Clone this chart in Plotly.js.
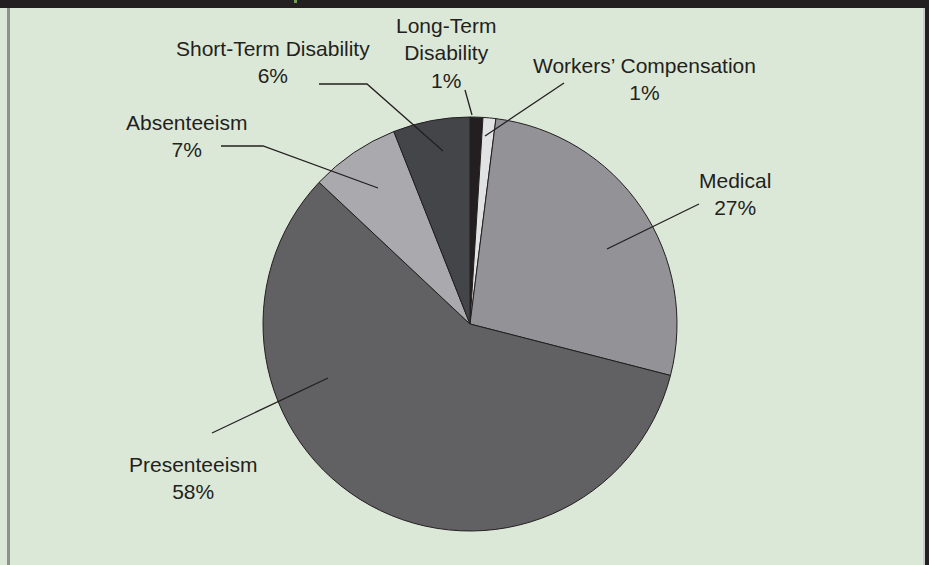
<!DOCTYPE html>
<html>
<head>
<meta charset="utf-8">
<script src="https://cdn.plot.ly/plotly-3.0.1.min.js"></script>
<style>
html,body{margin:0;padding:0;background:#dce8d7;}
#chart{width:929px;height:565px;}
</style>
</head>
<body>
<div id="chart"></div>
<script>
// ---- data ----
const categories = ["Long-Term Disability", "Workers\u2019 Compensation", "Medical", "Presenteeism", "Absenteeism", "Short-Term Disability"];
const values = [1, 1, 27, 58, 7, 6];

// ---- styles ----
const sliceColors = ["#231f20", "#e1e2e4", "#939397", "#616163", "#aaaaae", "#444548"];
const W = 929, H = 565;
const cx = 470, cy = 324, R = 207;

// label layout (pixel positions of text centres and leader-line paths)
const labelLayout = [
  {x: 446, y: 53,  breakName: true,  path: [[465, 90], [472, 115]]},
  {x: 644, y: 79,  breakName: false, path: [[564, 83], [485, 136]]},
  {x: 735, y: 194, breakName: false, path: [[699, 204], [607, 249]]},
  {x: 193, y: 478, breakName: false, path: [[212, 433], [328, 378]]},
  {x: 186, y: 136, breakName: false, path: [[221, 146], [263, 146], [378, 188]]},
  {x: 273, y: 62,  breakName: false, path: [[319, 84], [367, 84], [443, 151]]}
];

const px = v => v / W;
const py = v => 1 - v / H;

const annotations = categories.map((c, i) => {
  const L = labelLayout[i];
  const name = L.breakName ? c.replace(" ", "<br>") : c;
  return {
    xref: "paper", yref: "paper",
    x: px(L.x), y: py(L.y),
    xanchor: "center", yanchor: "middle",
    text: name + "<br>" + values[i] + "%",
    showarrow: false,
    align: "center",
    font: {family: "Liberation Sans, Arial, Helvetica, sans-serif", size: 21, color: "#231f20"}
  };
});

const shapes = [
  {type: "rect", xref: "paper", yref: "paper", x0: 0, x1: 1, y0: py(8), y1: 1, fillcolor: "#231f20", line: {width: 0}},
  {type: "rect", xref: "paper", yref: "paper", x0: px(294), x1: px(297), y0: py(3), y1: 1, fillcolor: "#6f9e5f", line: {width: 0}},
  {type: "rect", xref: "paper", yref: "paper", x0: px(7), x1: px(10), y0: 0, y1: py(8), fillcolor: "#8e8f93", line: {width: 0}},
  {type: "rect", xref: "paper", yref: "paper", x0: px(923), x1: px(925), y0: 0, y1: py(8), fillcolor: "#c9cccb", line: {width: 0}},
  {type: "rect", xref: "paper", yref: "paper", x0: px(925), x1: 1, y0: 0, y1: py(8), fillcolor: "#231f20", line: {width: 0}}
];
labelLayout.forEach(L => {
  const d = L.path.map((p, k) => (k === 0 ? "M" : "L") + px(p[0]).toFixed(5) + "," + py(p[1]).toFixed(5)).join(" ");
  shapes.push({type: "path", xref: "paper", yref: "paper", path: d, line: {color: "#231f20", width: 1.3}, layer: "above"});
});

const trace = {
  type: "pie",
  labels: categories,
  values: values,
  sort: false,
  direction: "clockwise",
  rotation: 0,
  textinfo: "none",
  hoverinfo: "label+percent",
  marker: {colors: sliceColors, line: {color: "#231f20", width: 1}},
  domain: {x: [px(cx - R), px(cx + R)], y: [py(cy + R), py(cy - R)]},
  showlegend: false
};

const layout = {
  width: W, height: H,
  margin: {l: 0, r: 0, t: 0, b: 0, pad: 0},
  paper_bgcolor: "#dce8d7",
  plot_bgcolor: "#dce8d7",
  showlegend: false,
  annotations: annotations,
  shapes: shapes
};

Plotly.newPlot("chart", [trace], layout, {displayModeBar: false, staticPlot: true});
</script>
</body>
</html>
